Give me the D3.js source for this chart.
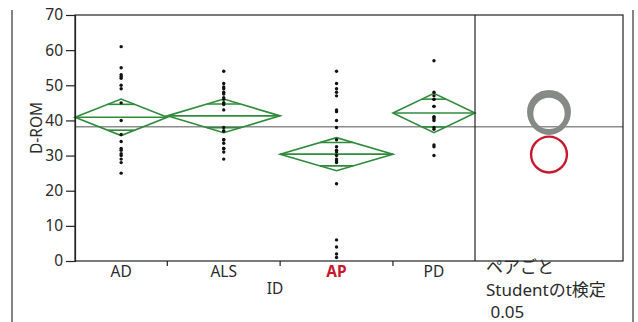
<!DOCTYPE html>
<html><head><meta charset="utf-8">
<script src="https://cdn.jsdelivr.net/npm/d3@7"></script>
<style>
html,body{margin:0;padding:0;background:#fff;}
svg{display:block;font-family:"Noto Sans","Open Sans","Noto Sans CJK JP",sans-serif;}
</style></head>
<body>
<svg id="chart" width="638" height="322"></svg>
<script>
// ---- data ----
const categories = ["AD", "ALS", "AP", "PD"];
const adValues  = [61, 55, 53, 52.5, 52, 50, 49, 45, 40, 36, 34, 32, 31.5, 30.5, 30, 29, 28, 25];
const alsValues = [54, 50.5, 49.5, 49, 48, 47.5, 46.5, 46, 45, 45, 44.5, 43, 38, 37, 37, 34.5, 34.5, 33.5, 32, 32, 31, 29];
const apValues  = [54, 50.5, 49, 48, 47, 43, 42.5, 40, 38, 34.5, 32.5, 31.5, 31, 30, 29, 28.5, 28, 22, 6, 4, 2, 1];
const pdValues  = [57, 48, 47, 46, 46, 44, 44, 41, 41, 40.5, 40, 38, 37.5, 33, 32.5, 30];
const groupMeans = [40.9, 41.3, 30.4, 42.1];
const ciHalf     = [5.2, 4.8, 4.7, 5.6];
const grandMean  = 38.2;
const circleCenters = [41.8, 42.0, 30.3, 42.4];
const circleRadii   = [5.4, 5.0, 5.1, 5.7];
const circleColors  = ["#858a86", "#858a86", "#c8182e", "#858a86"];
const yTicks = [0, 10, 20, 30, 40, 50, 60, 70];
const yLabel = "D-ROM";
const xLabel = "ID";
const testLines = ["ペアごと", "Studentのt検定", " 0.05"];

const groupValues = [adValues, alsValues, apValues, pdValues];

// ---- layout ----
const svg = d3.select("#chart");
const plotL = 75, plotR = 475, panelR = 623, plotT = 15, plotB = 261;
const green = "#2f8a3b";
const ink = "#222";
const fs = "15.5px";

const y = d3.scaleLinear().domain([0, 70]).range([plotB, plotT]);
const counts = groupValues.map(v => v.length);
const cum = [0]; counts.forEach(c => cum.push(cum[cum.length - 1] + c));
const x = d3.scaleLinear().domain([0, cum[cum.length - 1]]).range([plotL, plotR]);

// outer frame lines
svg.append("line").attr("x1", 12).attr("x2", 12).attr("y1", 10).attr("y2", 322)
  .attr("stroke", "#333").attr("stroke-width", 1.2);
svg.append("line").attr("x1", 633).attr("x2", 633).attr("y1", 10).attr("y2", 322)
  .attr("stroke", "#333").attr("stroke-width", 1.2);

// grand mean line
svg.append("line").attr("x1", plotL).attr("x2", panelR)
  .attr("y1", y(grandMean)).attr("y2", y(grandMean))
  .attr("stroke", "#8c8c8c").attr("stroke-width", 1.3);

// diamonds
categories.forEach((c, i) => {
  const x0 = x(cum[i]), x1 = x(cum[i + 1]), xm = (x0 + x1) / 2;
  const m = groupMeans[i], h = ciHalf[i];
  const g = svg.append("g").attr("fill", "none").attr("stroke", green).attr("stroke-width", 1.6);
  g.append("path").attr("d", d3.line()([[x0, y(m)], [xm, y(m + h)], [x1, y(m)], [xm, y(m - h)], [x0, y(m)]]) + "Z");
  g.append("line").attr("x1", x0).attr("x2", x1).attr("y1", y(m)).attr("y2", y(m));
  const o = h / Math.SQRT2, f = 1 - 1 / Math.SQRT2, hw = (x1 - x0) / 2 * f;
  [m + o, m - o].forEach(v => {
    g.append("line").attr("x1", xm - hw).attr("x2", xm + hw).attr("y1", y(v)).attr("y2", y(v));
  });
  // points
  svg.append("g").selectAll("circle").data(groupValues[i]).join("circle")
    .attr("cx", xm).attr("cy", d => y(d)).attr("r", 1.7).attr("fill", "#111");
});

// plot frame
svg.append("rect").attr("x", plotL).attr("y", plotT).attr("width", panelR - plotL).attr("height", plotB - plotT)
  .attr("fill", "none").attr("stroke", ink).attr("stroke-width", 1.2);
svg.append("line").attr("x1", plotR).attr("x2", plotR).attr("y1", plotT).attr("y2", plotB)
  .attr("stroke", ink).attr("stroke-width", 1.2);

// y axis
const yAxis = svg.append("g").attr("transform", `translate(${plotL},0)`)
  .call(d3.axisLeft(y).tickValues(yTicks).tickSize(9).tickPadding(3));
yAxis.attr("font-size", null).attr("font-family", null);
yAxis.select(".domain").attr("stroke", ink).attr("stroke-width", 1.2);
yAxis.selectAll(".tick line").attr("stroke", ink).attr("stroke-width", 1.2);
yAxis.selectAll("text").style("font-size", fs).attr("fill", "#2a2a2a");

// x axis: boundary ticks + centered labels
svg.append("g").selectAll("line").data(cum.slice(1, -1)).join("line")
  .attr("x1", d => x(d)).attr("x2", d => x(d)).attr("y1", plotB).attr("y2", plotB + 5)
  .attr("stroke", ink).attr("stroke-width", 1.2);
svg.append("g").selectAll("text").data(categories).join("text")
  .attr("x", (d, i) => (x(cum[i]) + x(cum[i + 1])) / 2).attr("y", 277)
  .attr("text-anchor", "middle").style("font-size", fs)
  .attr("fill", d => d === "AP" ? "#c8182e" : "#2a2a2a")
  .attr("font-weight", d => d === "AP" ? "bold" : "normal")
  .text(d => d);
svg.append("text").attr("x", 275).attr("y", 293.5).attr("text-anchor", "middle")
  .style("font-size", fs).attr("fill", "#2a2a2a").text(xLabel);
svg.append("text").attr("transform", "translate(42,128) rotate(-90)").attr("text-anchor", "middle")
  .style("font-size", fs).attr("fill", "#2a2a2a").text(yLabel);

// comparison circles
const cx = (plotR + panelR) / 2;
const pxPerUnit = y(0) - y(1);
const order = [0, 1, 3, 2];
order.forEach(i => {
  svg.append("circle").attr("cx", cx).attr("cy", y(circleCenters[i]))
    .attr("r", circleRadii[i] * pxPerUnit).attr("fill", "none")
    .attr("stroke", circleColors[i]).attr("stroke-width", i === 2 ? 2.4 : 3.8);
});

// test caption
svg.append("g").selectAll("text").data(testLines).join("text")
  .attr("x", 486).attr("y", (d, i) => 273 + i * 22.5)
  .style("font-size", "17px").attr("fill", "#2a2a2a")
  .attr("font-family", "'Noto Sans','Noto Sans CJK JP',sans-serif")
  .style("white-space", "pre")
  .text(d => d);
</script>
</body></html>
